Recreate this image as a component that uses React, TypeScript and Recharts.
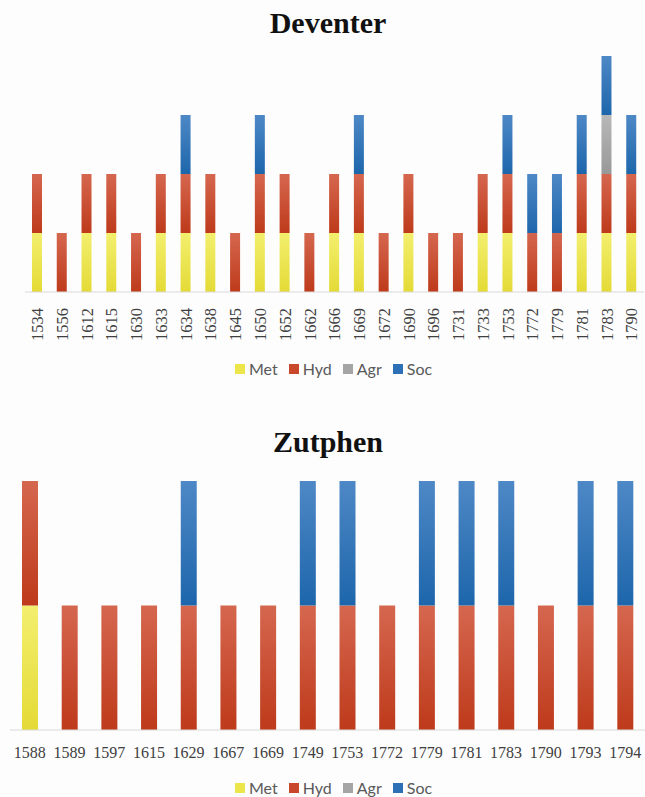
import { BarChart, Bar, XAxis, YAxis } from "recharts"

// Deventer
const deventerYears = ["1534", "1556", "1612", "1615", "1630", "1633", "1634", "1638", "1645", "1650", "1652", "1662", "1666", "1669", "1672", "1690", "1696", "1731", "1733", "1753", "1772", "1779", "1781", "1783", "1790"]
const deventerMet = [1, 0, 1, 1, 0, 1, 1, 1, 0, 1, 1, 0, 1, 1, 0, 1, 0, 0, 1, 1, 0, 0, 1, 1, 1]
const deventerHyd = [1, 1, 1, 1, 1, 1, 1, 1, 1, 1, 1, 1, 1, 1, 1, 1, 1, 1, 1, 1, 1, 1, 1, 1, 1]
const deventerAgr = [0, 0, 0, 0, 0, 0, 0, 0, 0, 0, 0, 0, 0, 0, 0, 0, 0, 0, 0, 0, 0, 0, 0, 1, 0]
const deventerSoc = [0, 0, 0, 0, 0, 0, 1, 0, 0, 1, 0, 0, 0, 1, 0, 0, 0, 0, 0, 1, 1, 1, 1, 1, 1]

// Zutphen
const zutphenYears = ["1588", "1589", "1597", "1615", "1629", "1667", "1669", "1749", "1753", "1772", "1779", "1781", "1783", "1790", "1793", "1794"]
const zutphenMet = [1, 0, 0, 0, 0, 0, 0, 0, 0, 0, 0, 0, 0, 0, 0, 0]
const zutphenHyd = [1, 1, 1, 1, 1, 1, 1, 1, 1, 1, 1, 1, 1, 1, 1, 1]
const zutphenAgr = [0, 0, 0, 0, 0, 0, 0, 0, 0, 0, 0, 0, 0, 0, 0, 0]
const zutphenSoc = [0, 0, 0, 0, 1, 0, 0, 1, 1, 0, 1, 1, 1, 0, 1, 1]

const seriesNames = ["Met", "Hyd", "Agr", "Soc"]
const legendColors = ["#EDE64A", "#C9482B", "#A5A5A5", "#2E70B5"]
// top / bottom colours of the vertical shading in each segment
const gradTop = ["#F3EF6E", "#D5674F", "#B8B8B8", "#4E88C6"]
const gradBottom = ["#E4DA36", "#BE3A1B", "#989898", "#1D66AB"]

const buildRows = (years: string[], met: number[], hyd: number[], agr: number[], soc: number[]) =>
  years.map((year, i) => ({ year, Met: met[i], Hyd: hyd[i], Agr: agr[i], Soc: soc[i] }))

const deventerData = buildRows(deventerYears, deventerMet, deventerHyd, deventerAgr, deventerSoc)
const zutphenData = buildRows(zutphenYears, zutphenMet, zutphenHyd, zutphenAgr, zutphenSoc)

const tickFont = "'Liberation Serif', 'Times New Roman', serif"

function VerticalTick(props: any) {
  const { x, y, payload } = props
  return (
    <text x={x} y={y + 8} transform={`rotate(-90, ${x}, ${y + 8})`} textAnchor="end" dy="0.35em"
      fontFamily={tickFont} fontSize={16.5} fill="#404040">
      {payload.value}
    </text>
  )
}

function FlatTick(props: any) {
  const { x, y, payload } = props
  return (
    <text x={x} y={y + 14} textAnchor="middle" dy="0.35em" fontFamily={tickFont} fontSize={16} fill="#404040">
      {payload.value}
    </text>
  )
}

function Gradients({ prefix }: { prefix: string }) {
  return (
    <defs>
      {seriesNames.map((name, i) => (
        <linearGradient key={name} id={`${prefix}-${name}`} x1="0" y1="0" x2="0" y2="1">
          <stop offset="0%" stopColor={gradTop[i]} />
          <stop offset="100%" stopColor={gradBottom[i]} />
        </linearGradient>
      ))}
    </defs>
  )
}

function Legend({ top }: { top: number }) {
  return (
    <div style={{ position: "absolute", left: 235, top, display: "flex", alignItems: "center", gap: 11,
      fontFamily: "Lato, 'Open Sans', sans-serif", fontSize: 16, color: "#595959", lineHeight: "18px" }}>
      {seriesNames.map((name, i) => (
        <div key={name} style={{ display: "flex", alignItems: "center" }}>
          <span style={{ width: 10, height: 10, background: legendColors[i], marginRight: 4, display: "inline-block" }} />
          <span>{name}</span>
        </div>
      ))}
    </div>
  )
}

const titleStyle: React.CSSProperties = {
  position: "absolute", left: 0, width: 645, paddingLeft: 11, boxSizing: "border-box", textAlign: "center",
  fontFamily: tickFont, fontWeight: "bold", fontSize: 30, lineHeight: "30px", color: "#111",
}

export default function App() {
  return (
    <div style={{ position: "absolute", left: 0, top: 0, width: 645, height: 797, background: "#fdfdfd", overflow: "hidden" }}>
      <div style={{ ...titleStyle, top: 8 }}>Deventer</div>
      <div style={{ position: "absolute", left: 0, top: 40 }}>
        <BarChart width={645} height={302} data={deventerData} margin={{ top: 16, right: 1, bottom: 0, left: 25 }} barSize={10}>
          <Gradients prefix="dev" />
          <XAxis dataKey="year" interval={0} tickLine={false} axisLine={{ stroke: "#D9D9D9" }} height={50} tick={<VerticalTick />} />
          <YAxis hide domain={[0, 4]} />
          {seriesNames.map((name) => (
            <Bar key={name} dataKey={name} stackId="a" fill={`url(#dev-${name})`} isAnimationActive={false} />
          ))}
        </BarChart>
      </div>
      <Legend top={360} />

      <div style={{ ...titleStyle, top: 427 }}>Zutphen</div>
      <div style={{ position: "absolute", left: 0, top: 465 }}>
        <BarChart width={645} height={305} data={zutphenData} margin={{ top: 16, right: 0, bottom: 0, left: 10 }} barSize={16}>
          <Gradients prefix="zut" />
          <XAxis dataKey="year" interval={0} tickLine={false} axisLine={{ stroke: "#D9D9D9" }} height={40} tick={<FlatTick />} />
          <YAxis hide domain={[0, 2]} />
          {seriesNames.map((name) => (
            <Bar key={name} dataKey={name} stackId="a" fill={`url(#zut-${name})`} isAnimationActive={false} />
          ))}
        </BarChart>
      </div>
      <Legend top={779} />
    </div>
  )
}
